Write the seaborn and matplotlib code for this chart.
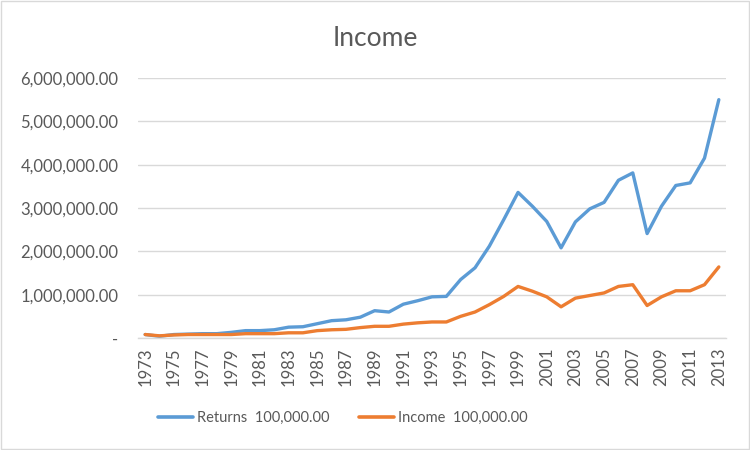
import matplotlib
matplotlib.use("Agg")
import matplotlib.pyplot as plt
import seaborn as sns
import pandas as pd
from matplotlib.patches import Rectangle
from matplotlib.lines import Line2D
from matplotlib.ticker import FuncFormatter

years = list(range(1973, 2014))
returns = [0.08, 0.04, 0.08, 0.09, 0.10, 0.10, 0.13, 0.17, 0.17, 0.19,
           0.25, 0.26, 0.33, 0.40, 0.42, 0.48, 0.63, 0.60, 0.78, 0.86,
           0.95, 0.96, 1.35, 1.62, 2.12, 2.73, 3.36, 3.04, 2.69, 2.08,
           2.68, 2.98, 3.13, 3.64, 3.81, 2.41, 3.04, 3.52, 3.58, 4.15, 5.50]
income = [0.08, 0.05, 0.07, 0.08, 0.08, 0.08, 0.08, 0.10, 0.10, 0.10,
          0.12, 0.12, 0.17, 0.19, 0.20, 0.24, 0.27, 0.27, 0.32, 0.35,
          0.37, 0.37, 0.50, 0.60, 0.77, 0.96, 1.19, 1.08, 0.95, 0.72,
          0.92, 0.98, 1.04, 1.19, 1.23, 0.75, 0.95, 1.09, 1.09, 1.23, 1.64]
series_names = ["Returns  100,000.00", "Income  100,000.00"]
colors = ["#5B9BD5", "#ED7D31"]
title = "Income"

df = pd.DataFrame({
    "year": years * 2,
    "value": [v * 1e6 for v in returns] + [v * 1e6 for v in income],
    "series": [series_names[0]] * len(years) + [series_names[1]] * len(years),
})

sns.set_theme(style="white")
plt.rcParams["font.family"] = ["Lato", "DejaVu Sans"]
txt = "#595959"

fig = plt.figure(figsize=(7.5, 4.5), dpi=100)
ax = fig.add_axes([138 / 750, 1 - 338 / 450, (726 - 138) / 750, (338 - 78) / 450])

sns.lineplot(data=df, x="year", y="value", hue="series", palette=colors,
             linewidth=2.4, ax=ax, legend=False)

ax.set_xlim(1972.5, 2013.5)
ax.set_ylim(0, 6e6)
ax.set_yticks([i * 1e6 for i in range(7)])
ax.yaxis.set_major_formatter(FuncFormatter(lambda v, p: "-" if v == 0 else f"{v:,.2f}"))
ax.set_xticks(years[::2])
ax.set_xticklabels([str(y) for y in years[::2]], rotation=90)
ax.tick_params(axis="both", length=0, labelsize=12, labelcolor=txt)
ax.tick_params(axis="y", pad=14)
ax.tick_params(axis="x", pad=7)
ax.grid(axis="y", color="#D9D9D9", linewidth=1)
ax.set_axisbelow(True)
for s in ["top", "right", "left"]:
    ax.spines[s].set_visible(False)
ax.spines["bottom"].set_color("#D9D9D9")
ax.spines["bottom"].set_linewidth(1)
ax.set_xlabel("")
ax.set_ylabel("")

fig.text(0.5, 1 - 38 / 450, title, ha="center", va="center", fontsize=19, color=txt)

handles = [Line2D([0], [0], color=c, linewidth=2.6) for c in colors]
fig.legend(handles, series_names, loc="center", bbox_to_anchor=(343 / 750, 1 - 418 / 450),
           ncol=2, frameon=False, fontsize=10.5, labelcolor=txt, handlelength=2.4,
           handletextpad=0.3, columnspacing=2.0)

fig.patches.append(Rectangle((0.001, 0.002), 0.997, 0.996, transform=fig.transFigure,
                             fill=False, edgecolor="#D9D9D9", linewidth=1))

fig.savefig("out.png", dpi=100)
